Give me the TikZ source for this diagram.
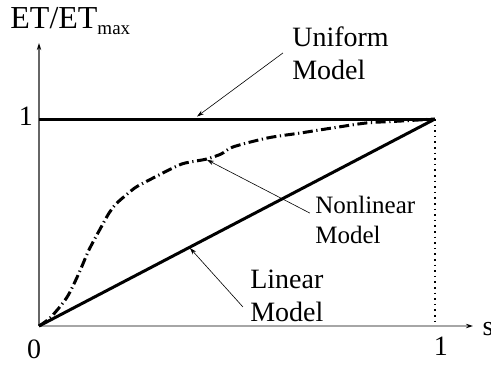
\documentclass[tikz,border=0pt]{standalone}
\usepackage{fontspec}
\setmainfont{Liberation Serif}
\usetikzlibrary{arrows.meta}

\begin{document}
\begin{tikzpicture}[x=198pt,y=103.5pt]
\tikzstyle{every node}+=[inner sep=0pt]
\tikzstyle{big}=[font=\fontsize{14}{16.5}\selectfont]
\tikzstyle{small}=[font=\fontsize{12.5}{15}\selectfont]
\tikzstyle{note}=[align=left, anchor=west]
\tikzstyle{tip}=[-{Stealth[length=3.5pt,width=2.2pt,color=black]}]
\tikzstyle{leader}=[tip, black, line width=0.3pt]
\tikzstyle{axis}=[tip, line width=0.6pt]
\tikzstyle{curve}=[black, line width=1.5pt]
\useasboundingbox (-0.0985,-0.2077) rectangle (1.1414,1.5749);
% axes
\coordinate (o) at (0,0);
\coordinate (ytip) at (0,1.367);
\coordinate (xtip) at (1.096,0);
\draw [axis, black!60] (o) -- (ytip);
\draw [axis, black!35] (o) -- (xtip);
\node [font=\fontsize{16}{18}\selectfont, anchor=base west] (ylab) at (-0.0732,1.4396) {ET/ET\raisebox{-3pt}{\fontsize{9.5}{11}\selectfont max}};
\node [big] (yone) at (-0.033,1.014) {1};
\node [big] (zero) at (-0.0126,-0.111) {0};
\node [big] (xone) at (1.015,-0.097) {1};
\node [big, anchor=base west] (slab) at (1.119,-0.0435) {s};
% models
\coordinate (top0) at (0,1);
\coordinate (top1) at (1,1);
\draw [black, line width=0.8pt, dotted] (top1) -- (1,0);
\draw [curve] (top0) -- (top1);
\draw [curve] (o) -- (top1);
\draw [curve, dash pattern=on 5pt off 1.8pt on 0.6pt off 1.8pt] plot [smooth, tension=0.5] coordinates {
  (0,0) (0.030,0.043) (0.071,0.140) (0.101,0.256) (0.126,0.367) (0.157,0.478)
  (0.177,0.546) (0.194,0.589) (0.220,0.633) (0.245,0.671) (0.278,0.705)
  (0.323,0.749) (0.361,0.783) (0.396,0.797) (0.424,0.807) (0.460,0.831)
  (0.490,0.865) (0.576,0.908) (0.659,0.932) (0.742,0.957) (0.828,0.981)
  (0.912,0.990) (1,1)};
% labels
\coordinate (onuni) at (0.399,1.012);
\coordinate (onnon) at (0.424,0.803);
\coordinate (onlin) at (0.381,0.377);
\node [big, note, inner sep=4.5pt] (uniform) at (0.616,1.319) {Uniform\\Model};
\node [small, note, inner sep=2.5pt] (nonlin) at (0.684,0.5145) {Nonlinear\\Model};
\node [big, note, inner sep=3.5pt] (linear) at (0.515,0.147) {Linear\\Model};
\draw [leader] (uniform.west) -- (onuni);
\draw [leader] ([yshift=3.2pt]nonlin.west) -- (onnon);
\draw [leader] ([yshift=-5.7pt]linear.west) -- (onlin);
\end{tikzpicture}
\end{document}
